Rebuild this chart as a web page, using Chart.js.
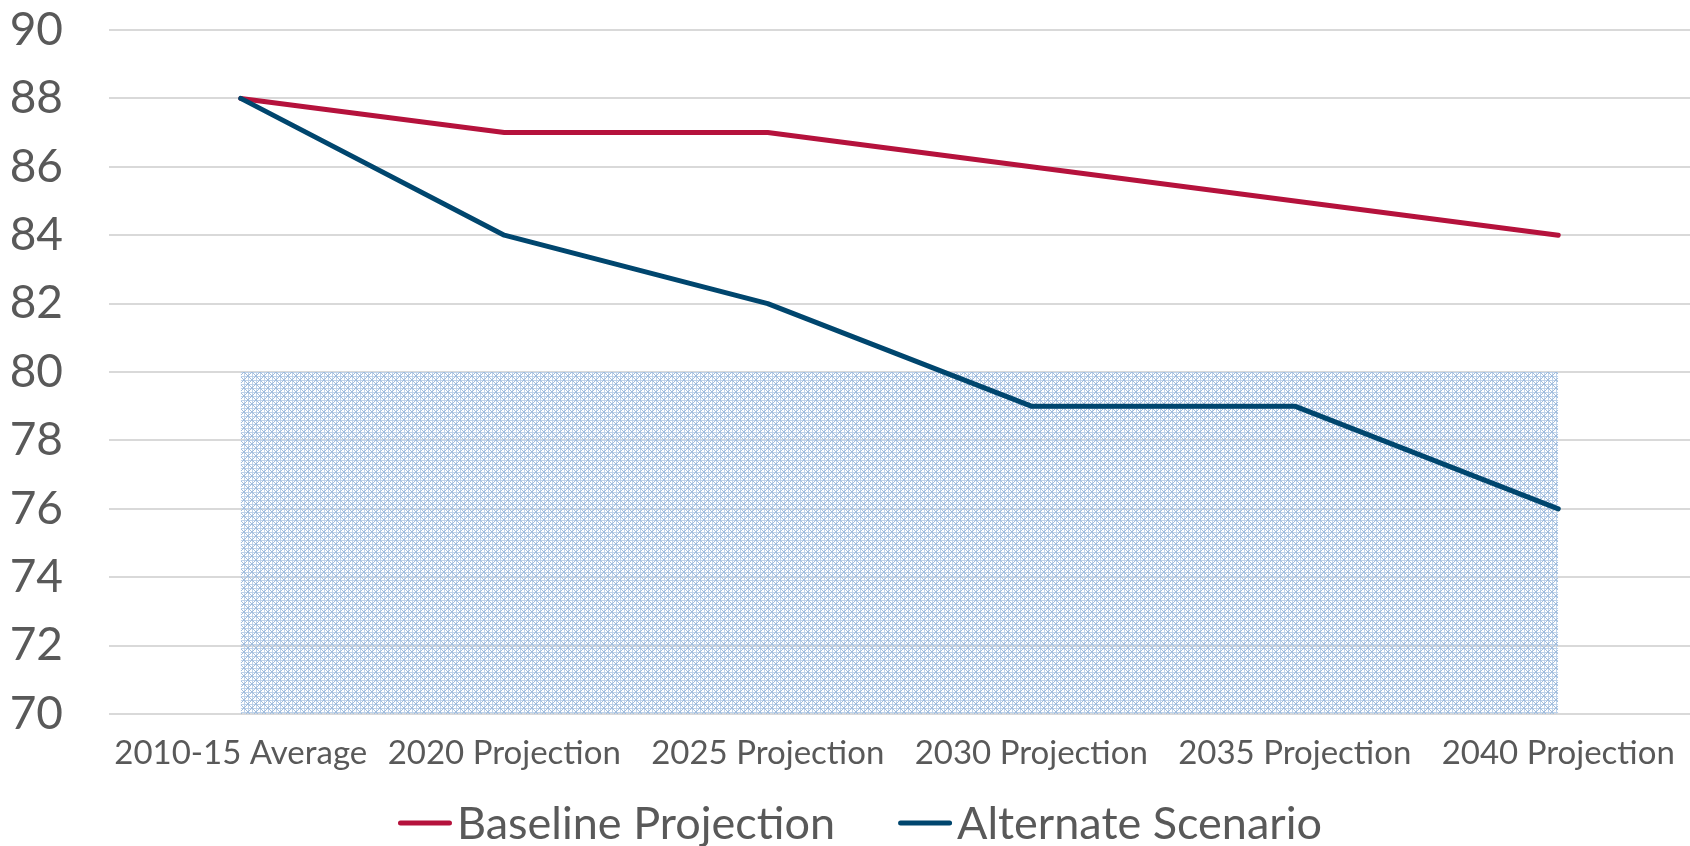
<!DOCTYPE html>
<html><head><meta charset="utf-8">
<script src="https://cdn.jsdelivr.net/npm/chart.js@4.4.1/dist/chart.umd.min.js"></script>
<style>html,body{margin:0;padding:0;background:#fff}#wrap{width:1690px;height:846px;position:relative}</style>
</head><body><div id="wrap"><canvas id="c" width="1690" height="846"></canvas></div>
<script>
const categories = ['2010-15 Average','2020 Projection','2025 Projection','2030 Projection','2035 Projection','2040 Projection'];
const baselineProjection = [88, 87, 87, 86, 85, 84];
const alternateScenario = [88, 84, 82, 79, 79, 76];
const shadedBand = [80, 80, 80, 80, 80, 80];
const yMin = 70, yMax = 90, yStep = 2;
const seriesNames = ['Baseline Projection', 'Alternate Scenario'];

function makePattern() {
  const c = document.createElement('canvas');
  c.width = 8; c.height = 8;
  const g = c.getContext('2d');
  const img = g.createImageData(8, 8);
  for (let y = 0; y < 8; y++) for (let x = 0; x < 8; x++) {
    const i = (y * 8 + x) * 4;
    const grid = (x % 4 === 0 || y % 4 === 0);
    const diag = (x === y || x + y === 7);
    let col = null;
    if (diag) col = [160, 188, 220, 255];
    else if (grid) col = [190, 210, 234, 255];
    if (col) { img.data[i] = col[0]; img.data[i+1] = col[1]; img.data[i+2] = col[2]; img.data[i+3] = col[3]; }
  }
  g.putImageData(img, 0, 0);
  return g.createPattern(c, 'repeat');
}

const legendPlugin = {
  id: 'customLegend',
  afterDraw(chart) {
    const ctx = chart.ctx;
    const items = chart.data.datasets.filter(d => d.showInLegend)
      .sort((a, b) => a.legendIndex - b.legendIndex);
    ctx.save();
    ctx.font = '45px Lato';
    const lineLen = 54, gap = 5, itemGap = 63;
    const widths = items.map(d => lineLen + gap + ctx.measureText(d.label).width);
    const total = widths.reduce((a, b) => a + b, 0) + itemGap * (items.length - 1);
    let x = 860 - total / 2;
    const y = 823;
    items.forEach((d, i) => {
      ctx.strokeStyle = d.borderColor; ctx.lineWidth = 5; ctx.lineCap = 'round';
      ctx.beginPath(); ctx.moveTo(x + 2.5, y); ctx.lineTo(x + lineLen - 2.5, y); ctx.stroke();
      ctx.fillStyle = '#595959'; ctx.textBaseline = 'alphabetic'; ctx.textAlign = 'left';
      ctx.fillText(d.label, x + lineLen + gap, 839);
      x += widths[i] + itemGap;
    });
    ctx.restore();
  }
};

new Chart(document.getElementById('c'), {
  type: 'line',
  data: {
    labels: categories,
    datasets: [
      { label: seriesNames[1], data: alternateScenario, borderColor: '#00466E', borderWidth: 5,
        pointRadius: 0, tension: 0, fill: false, order: 0, showInLegend: true, legendIndex: 1,
        borderCapStyle: 'round', borderJoinStyle: 'round' },
      { label: seriesNames[0], data: baselineProjection, borderColor: '#B5123C', borderWidth: 5,
        pointRadius: 0, tension: 0, fill: false, order: 1, showInLegend: true, legendIndex: 0,
        borderCapStyle: 'round', borderJoinStyle: 'round' },
      { label: 'band', data: shadedBand, borderWidth: 0, borderColor: 'rgba(0,0,0,0)',
        backgroundColor: makePattern(), pointRadius: 0, tension: 0, fill: 'start', order: 2 }
    ]
  },
  options: {
    responsive: false, animation: false, devicePixelRatio: 1,
    layout: { padding: { top: 30, right: 0, left: 0, bottom: 72 } },
    plugins: { legend: { display: false }, tooltip: { enabled: false } },
    scales: {
      x: {
        offset: true,
        grid: { display: false, drawTicks: false },
        border: { display: false },
        ticks: { color: '#595959', font: { family: 'Lato', size: 33 }, padding: 20, maxRotation: 0, autoSkip: false },
        afterFit: s => { s.height = 60; s.paddingLeft = 0; s.paddingRight = 0; }
      },
      y: {
        min: yMin, max: yMax,
        grid: { color: '#D9D9D9', lineWidth: 2, drawTicks: false },
        border: { display: false },
        ticks: { stepSize: yStep, color: '#595959', font: { family: 'Lato', size: 46 }, padding: 46 },
        afterFit: s => { s.width = 109; s.paddingTop = 0; s.paddingBottom = 0; }
      }
    }
  },
  plugins: [legendPlugin]
});
</script>
</body></html>
